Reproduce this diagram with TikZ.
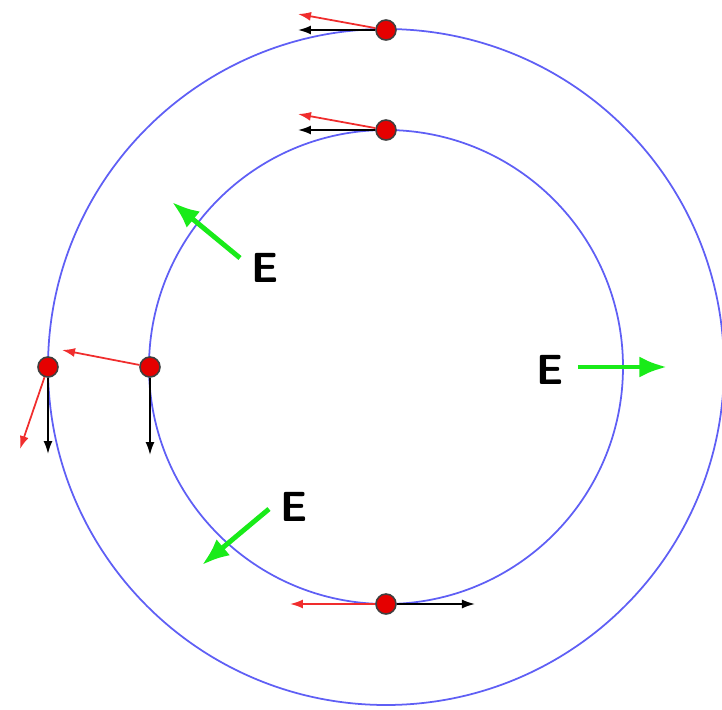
\documentclass[tikz,border=0pt]{standalone}
\usepackage{tikz}
\usetikzlibrary{arrows.meta}
\definecolor{ring}{RGB}{95,95,245}
\definecolor{field}{RGB}{25,235,25}
\definecolor{vel}{RGB}{240,45,45}
\tikzset{
  orbit/.style={draw=ring,line width=1pt},
  charge/.style={circle,draw=black!75,fill=red!90!black,line width=0.9pt,
                 minimum size=4mm,inner sep=0pt},
  efield/.style={-{Latex[length=5.5mm,width=4.2mm]},line width=2.8pt,draw=field},
  blackvec/.style={-{Latex[length=2.6mm,width=1.8mm]},line width=1pt,draw=black},
  redvec/.style={blackvec,draw=vel},
  elabel/.style={font=\fontsize{24}{26}\selectfont\sffamily\bfseries,inner sep=0pt}
}

\begin{document}
\begin{tikzpicture}[x=0.2mm,y=0.2mm]
  \useasboundingbox (-386,-342) rectangle (336,367);
  \coordinate (o) at (0,0);
  \draw[orbit] (o) circle (338);
  \draw[orbit] (o) circle (237);

  \node[charge] (qot) at (0,337) {};
  \node[charge] (qit) at (0,237) {};
  \node[charge] (qol) at (-338,0) {};
  \node[charge] (qil) at (-236,0) {};
  \node[charge] (qib) at (0,-237) {};

  \coordinate (bot) at (-88,337);
  \coordinate (rot) at (-88,353);
  \coordinate (bit) at (-88,237);
  \coordinate (rit) at (-88,253);
  \coordinate (bol) at (-338,-87);
  \coordinate (rol) at (-366,-82);
  \coordinate (bil) at (-236,-88);
  \coordinate (ril) at (-324,17);
  \coordinate (bib) at (89,-237);
  \coordinate (rib) at (-96,-237);
  \draw[blackvec] (qot) -- (bot);
  \draw[redvec] (qot) -- (rot);
  \draw[blackvec] (qit) -- (bit);
  \draw[redvec] (qit) -- (rit);
  \draw[blackvec] (qol) -- (bol);
  \draw[redvec] (qol) -- (rol);
  \draw[blackvec] (qil) -- (bil);
  \draw[redvec] (qil) -- (ril);
  \draw[blackvec] (qib) -- (bib);
  \draw[redvec] (qib) -- (rib);

  \coordinate (eus) at (-146,109);
  \coordinate (eue) at (-214,165);
  \coordinate (ers) at (192,0);
  \coordinate (ere) at (281,0);
  \coordinate (els) at (-117,-142);
  \coordinate (ele) at (-184,-198);
  \draw[efield] (eus) -- (eue);
  \draw[efield] (ers) -- (ere);
  \draw[efield] (els) -- (ele);
  \node[elabel] (eu) at (-121,99) {E};
  \node[elabel] (er) at (164,-3) {E};
  \node[elabel] (el) at (-92,-140) {E};
\end{tikzpicture}
\end{document}
